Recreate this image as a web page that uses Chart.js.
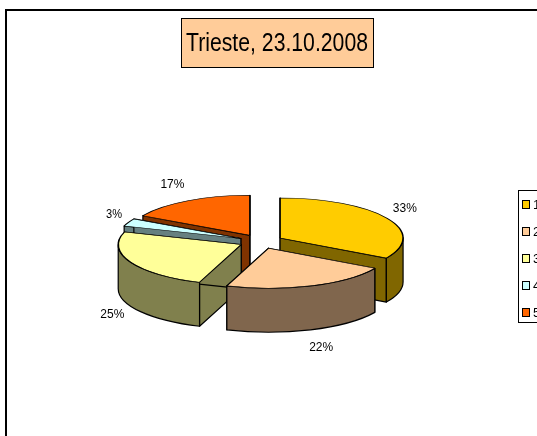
<!DOCTYPE html>
<html>
<head>
<meta charset="utf-8">
<style>html,body{margin:0;padding:0;background:#fff;overflow:hidden}canvas{display:block}</style>
<script src="https://cdn.jsdelivr.net/npm/chart.js@4"></script>
</head>
<body>
<canvas id="c" width="537" height="436"></canvas>
<script>
const titleText = 'Trieste, 23.10.2008';
const categories = ['1', '2', '3', '4', '5'];
const values = [33.4, 22.1, 24.6, 3.1, 16.8];
const topColors = ['#FFCC00', '#FFCC99', '#FFFF99', '#CCFFFF', '#FF6600'];
const sideColors = ['#806600', '#80664D', '#80804D', '#668080', '#803300'];
const drawOrder = [4, 3, 2, 0, 1];

const FONT = '"Liberation Sans", Arial, sans-serif';
const SQUASH = 0.325, DEPTH = 44, RADIUS = 123, EXPLODE = 22;

const pie3d = {
  id: 'pie3d',
  beforeDraw(chart) {
    const ctx = chart.ctx;
    ctx.save();
    ctx.strokeStyle = '#000';
    ctx.lineWidth = 2;
    ctx.strokeRect(6, 10, 700, 700);
    ctx.restore();
  },
  beforeDatasetDraw(chart) {
    const ctx = chart.ctx;
    const meta = chart.getDatasetMeta(0);
    for (const i of drawOrder) {
      const el = meta.data[i];
      const { x, y, startAngle: s, endAngle: e, outerRadius: r } = el;
      const mid = (s + e) / 2;
      const ax = x + Math.cos(mid) * EXPLODE;
      const ay = y + Math.sin(mid) * EXPLODE * SQUASH;
      const px = a => ax + Math.cos(a) * r;
      const py = a => ay + Math.sin(a) * r * SQUASH;
      ctx.save();
      ctx.fillStyle = sideColors[i];
      ctx.strokeStyle = '#000';
      ctx.lineWidth = 1.2;
      ctx.lineJoin = 'round';
      for (const a of [s, e]) {
        ctx.beginPath();
        ctx.moveTo(ax, ay);
        ctx.lineTo(px(a), py(a));
        ctx.lineTo(px(a), py(a) + DEPTH);
        ctx.lineTo(ax, ay + DEPTH);
        ctx.closePath();
        ctx.fill();
        ctx.stroke();
      }
      const a0 = Math.max(s, 0), a1 = Math.min(e, Math.PI);
      if (a1 > a0) {
        ctx.beginPath();
        ctx.ellipse(ax, ay, r, r * SQUASH, 0, a0, a1);
        ctx.lineTo(px(a1), py(a1) + DEPTH);
        ctx.ellipse(ax, ay + DEPTH, r, r * SQUASH, 0, a1, a0, true);
        ctx.closePath();
        ctx.fill();
        ctx.stroke();
      }
      ctx.restore();
      ctx.save();
      ctx.translate(ax - x, ay - y);
      ctx.translate(0, y);
      ctx.scale(1, SQUASH);
      ctx.translate(0, -y);
      el.draw(ctx);
      ctx.restore();
    }
    return false;
  },
  afterDraw(chart) {
    const ctx = chart.ctx;
    const meta = chart.getDatasetMeta(0);
    const total = values.reduce((a, b) => a + b, 0);
    ctx.save();
    // percentage labels
    ctx.fillStyle = '#000';
    ctx.font = '13px ' + FONT;
    ctx.textAlign = 'center';
    ctx.textBaseline = 'middle';
    meta.data.forEach((el, i) => {
      const mid = (el.startAngle + el.endAngle) / 2;
      const sn = Math.sin(mid), cs = Math.cos(mid);
      const txt = Math.round(values[i] / total * 100) + '%';
      const w = txt.length * 8;
      const lx = el.x + cs * 152 + Math.sign(cs) * (w / 2) * Math.min(1, 2 * Math.abs(cs));
      const ly = el.y + sn * 66 + (sn > 0 ? DEPTH : 0);
      ctx.fillText(txt, lx, ly, w);
    });
    // title box
    ctx.fillStyle = '#FFCC99';
    ctx.fillRect(181.5, 18.5, 192, 49);
    ctx.strokeStyle = '#000';
    ctx.lineWidth = 1;
    ctx.strokeRect(181.5, 18.5, 192, 49);
    ctx.fillStyle = '#000';
    ctx.font = '26px ' + FONT;
    ctx.fillText(titleText, 277, 44, 182);
    // legend
    ctx.fillStyle = '#fff';
    ctx.fillRect(518.5, 190.5, 60, 132);
    ctx.strokeRect(518.5, 190.5, 60, 132);
    ctx.textAlign = 'left';
    ctx.font = '13px ' + FONT;
    categories.forEach((c, i) => {
      const yy = 205 + i * 27;
      ctx.fillStyle = topColors[i];
      ctx.fillRect(522.5, yy - 4.5, 7, 8);
      ctx.strokeRect(522.5, yy - 4.5, 7, 8);
      ctx.fillStyle = '#000';
      ctx.fillText(c, 533, yy);
    });
    ctx.restore();
  }
};

new Chart(document.getElementById('c'), {
  type: 'pie',
  plugins: [pie3d],
  data: {
    labels: categories,
    datasets: [{
      data: values,
      backgroundColor: topColors,
      borderColor: '#000',
      borderWidth: 1.6,
      borderJoinStyle: 'round',
      radius: RADIUS
    }]
  },
  options: {
    responsive: false,
    animation: false,
    events: [],
    layout: { padding: { left: 0, right: 15, top: 47, bottom: 0 } },
    plugins: { legend: { display: false }, title: { display: false }, tooltip: { enabled: false } }
  }
});
</script>
</body>
</html>
